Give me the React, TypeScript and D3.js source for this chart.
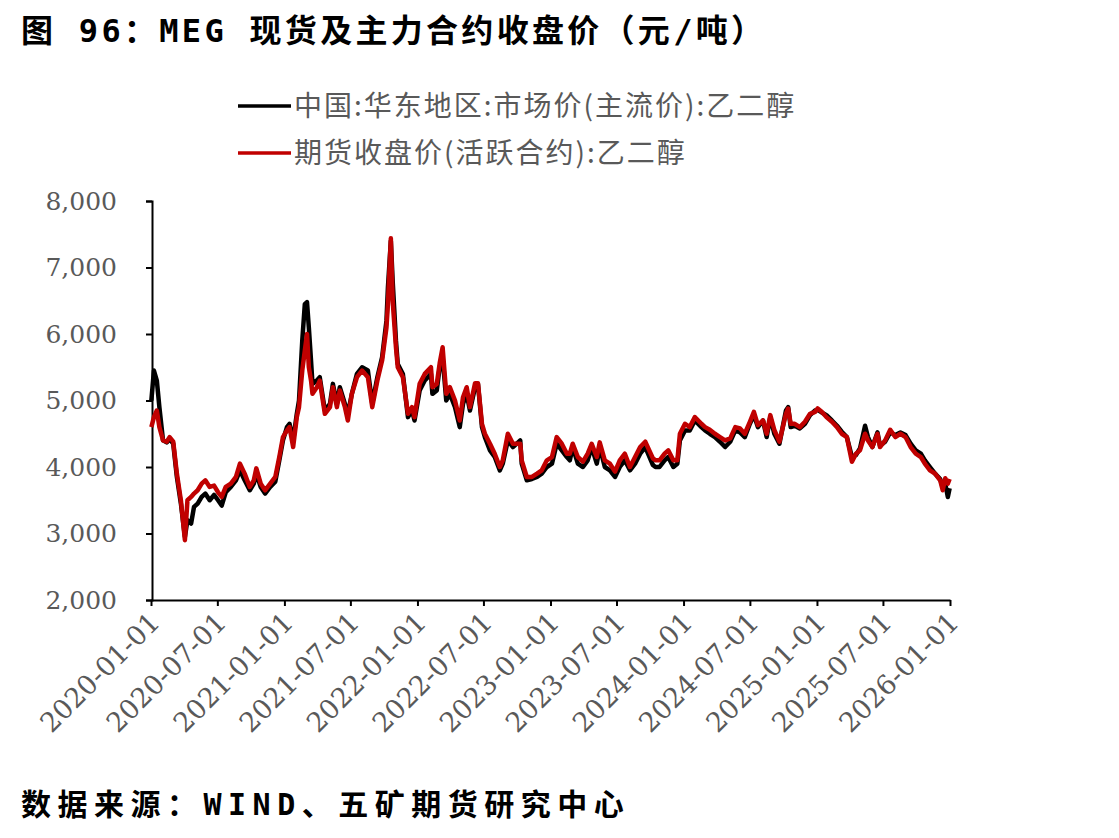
import React, { useEffect, useRef } from 'react';
import * as d3 from 'd3';

// sample dates (roughly every 1-2 weeks)
const dates = [
  '2020-01-02', '2020-01-09', '2020-01-17', '2020-01-24', '2020-02-03', '2020-02-13', '2020-02-21', '2020-03-02',
  '2020-03-12', '2020-03-23', '2020-04-03', '2020-04-10', '2020-04-20', '2020-04-28', '2020-05-08', '2020-05-19',
  '2020-05-29', '2020-06-10', '2020-06-22', '2020-07-03', '2020-07-13', '2020-07-24', '2020-08-07', '2020-08-21',
  '2020-09-01', '2020-09-14', '2020-09-28', '2020-10-09', '2020-10-16', '2020-10-28', '2020-11-09', '2020-11-23',
  '2020-12-07', '2020-12-18', '2020-12-28', '2021-01-08', '2021-01-15', '2021-01-25', '2021-02-04', '2021-02-10',
  '2021-02-19', '2021-02-26', '2021-03-04', '2021-03-09', '2021-03-15', '2021-03-19', '2021-03-31', '2021-04-08',
  '2021-04-22', '2021-05-06', '2021-05-14', '2021-05-25', '2021-06-02', '2021-06-16', '2021-06-24', '2021-07-05',
  '2021-07-19', '2021-08-02', '2021-08-18', '2021-08-30', '2021-09-13', '2021-09-26', '2021-10-08', '2021-10-12',
  '2021-10-20', '2021-10-25', '2021-11-03', '2021-11-08', '2021-11-22', '2021-12-06', '2021-12-17', '2021-12-24',
  '2022-01-07', '2022-01-21', '2022-02-07', '2022-02-11', '2022-02-23', '2022-03-03', '2022-03-11', '2022-03-21',
  '2022-03-31', '2022-04-14', '2022-04-27', '2022-05-06', '2022-05-16', '2022-05-25', '2022-06-08', '2022-06-16',
  '2022-06-27', '2022-07-05', '2022-07-19', '2022-08-01', '2022-08-15', '2022-08-23', '2022-09-06', '2022-09-20',
  '2022-10-10', '2022-10-14', '2022-10-28', '2022-11-11', '2022-11-25', '2022-12-08', '2022-12-22', '2023-01-05',
  '2023-01-18', '2023-02-01', '2023-02-15', '2023-02-23', '2023-03-03', '2023-03-17', '2023-03-31', '2023-04-13',
  '2023-04-24', '2023-05-08', '2023-05-16', '2023-05-30', '2023-06-13', '2023-06-27', '2023-07-10', '2023-07-24',
  '2023-08-07', '2023-08-21', '2023-09-04', '2023-09-18', '2023-10-09', '2023-10-16', '2023-10-27', '2023-11-10',
  '2023-11-20', '2023-12-04', '2023-12-15', '2023-12-22', '2024-01-05', '2024-01-18', '2024-02-01', '2024-02-19',
  '2024-02-29', '2024-03-13', '2024-03-27', '2024-04-10', '2024-04-24', '2024-05-08', '2024-05-22', '2024-06-04',
  '2024-06-17', '2024-07-01', '2024-07-12', '2024-07-23', '2024-08-06', '2024-08-16', '2024-08-26', '2024-09-06',
  '2024-09-20', '2024-10-08', '2024-10-14', '2024-10-21', '2024-11-01', '2024-11-15', '2024-11-29', '2024-12-13',
  '2024-12-27', '2025-01-03', '2025-01-14', '2025-01-27', '2025-02-11', '2025-02-25', '2025-03-10', '2025-03-24',
  '2025-04-07', '2025-04-18', '2025-04-29', '2025-05-13', '2025-05-21', '2025-06-02', '2025-06-16', '2025-06-23',
  '2025-07-07', '2025-07-21', '2025-08-04', '2025-08-18', '2025-09-01', '2025-09-15', '2025-09-29', '2025-10-13',
  '2025-10-24', '2025-11-07', '2025-11-21', '2025-12-05', '2025-12-12', '2025-12-19', '2025-12-26', '2025-12-31'
];

// 中国:华东地区:市场价(主流价):乙二醇
const spotPrice = [
  5000, 5450, 5300, 4900, 4400, 4370, 4420, 4350, 3850, 3450, 2950, 3200, 3150, 3400, 3450, 3550,
  3600, 3500, 3580, 3500, 3420, 3620, 3700, 3800, 3950, 3800, 3650, 3750, 3900, 3700, 3600, 3700,
  3780, 4100, 4400, 4600, 4650, 4400, 4800, 5000, 5900, 6450, 6480, 6100, 5600, 5250, 5300, 5350,
  4850, 4950, 5250, 4950, 5200, 4950, 4800, 5100, 5400, 5500, 5450, 4950, 5350, 5650, 6200, 6700,
  7400, 6800, 5900, 5550, 5400, 4750, 4850, 4700, 5150, 5300, 5400, 5100, 5150, 5500, 5650, 5000,
  5100, 4900, 4600, 4950, 5100, 4850, 5200, 5250, 4600, 4450, 4250, 4150, 3950, 4050, 4400, 4300,
  4400, 4050, 3800, 3820, 3850, 3900, 4000, 4050, 4350, 4250, 4150, 4100, 4300, 4050, 4000, 4100,
  4300, 4050, 4300, 4000, 3950, 3850, 4000, 4100, 3950, 4050, 4200, 4300, 4030, 4000, 4000, 4100,
  4150, 4000, 4050, 4400, 4550, 4550, 4700, 4600, 4550, 4500, 4450, 4380, 4300, 4380, 4550, 4520,
  4450, 4650, 4780, 4600, 4700, 4450, 4750, 4500, 4350, 4850, 4900, 4600, 4620, 4580, 4650, 4780,
  4850, 4860, 4820, 4780, 4700, 4620, 4530, 4450, 4150, 4180, 4280, 4620, 4450, 4300, 4520, 4320,
  4380, 4520, 4480, 4520, 4480, 4350, 4250, 4200, 4100, 4000, 3900, 3820, 3700, 3750, 3550, 3680
];

// 期货收盘价(活跃合约):乙二醇
const futuresPrice = [
  4600, 4750, 4850, 4600, 4400, 4380, 4450, 4380, 3900, 3500, 2900, 3500, 3550, 3600, 3650, 3750,
  3800, 3700, 3720, 3620, 3550, 3700, 3750, 3850, 4050, 3900, 3700, 3800, 3980, 3750, 3650, 3750,
  3850, 4150, 4450, 4550, 4600, 4300, 4750, 4900, 5450, 5750, 6000, 5500, 5300, 5100, 5200, 5300,
  4800, 4900, 5200, 4900, 5150, 4900, 4700, 5100, 5350, 5450, 5350, 4900, 5300, 5600, 6100, 6450,
  7440, 6500, 5800, 5500, 5350, 4800, 4900, 4750, 5250, 5400, 5500, 5200, 5250, 5560, 5800, 5100,
  5200, 5000, 4700, 5050, 5200, 4900, 5260, 5260, 4650, 4500, 4350, 4200, 4000, 4100, 4500, 4350,
  4350, 4100, 3850, 3850, 3900, 3950, 4100, 4150, 4450, 4350, 4200, 4200, 4350, 4150, 4080, 4200,
  4350, 4150, 4370, 4100, 4050, 3930, 4100, 4200, 4000, 4150, 4300, 4380, 4130, 4100, 4100, 4200,
  4250, 4100, 4100, 4500, 4650, 4600, 4750, 4650, 4600, 4560, 4500, 4450, 4400, 4430, 4600, 4580,
  4500, 4680, 4830, 4630, 4700, 4500, 4780, 4560, 4380, 4800, 4880, 4650, 4650, 4600, 4680, 4800,
  4830, 4880, 4830, 4750, 4680, 4600, 4500, 4450, 4080, 4200, 4250, 4500, 4400, 4300, 4500, 4300,
  4400, 4560, 4450, 4500, 4450, 4300, 4200, 4150, 4050, 3950, 3900, 3800, 3650, 3830, 3750, 3820
];

const seriesNames = ['中国:华东地区:市场价(主流价):乙二醇', '期货收盘价(活跃合约):乙二醇'];
const seriesColors = ['#000000', '#C00000'];
const yTicks = [2000, 3000, 4000, 5000, 6000, 7000, 8000];

const App = () => {
  const ref = useRef<SVGSVGElement>(null);

  useEffect(() => {
    const svg = d3.select(ref.current);
    svg.selectAll('*').remove();

    const parse = d3.timeParse('%Y-%m-%d');
    const x = d3.scaleTime()
      .domain([new Date(2020, 0, 1), new Date(2026, 0, 1)])
      .range([151, 950]);
    const y = d3.scaleLinear()
      .domain([2000, 8000])
      .range([600, 201]);

    const cjk = '"Noto Sans CJK SC", "Noto Sans", sans-serif';
    // half-width latin like the original heiti font
    const heiMono = '"DejaVu Sans Mono", "Noto Sans CJK SC", sans-serif';
    const serif = '"DejaVu Serif", "Liberation Serif", serif';

    // title
    svg.append('text')
      .attr('x', 21)
      .attr('y', 42)
      .style('font-family', heiMono)
      .style('font-size', '32px')
      .style('font-weight', 'bold')
      .style('letter-spacing', '3.3px')
      .attr('fill', '#000')
      .text('图 96：MEG 现货及主力合约收盘价（元/吨）');

    // legend
    seriesNames.forEach((name, i) => {
      const ly = 106 + i * 47;
      svg.append('line')
        .attr('x1', 238).attr('x2', 291)
        .attr('y1', ly).attr('y2', ly)
        .attr('stroke', seriesColors[i])
        .attr('stroke-width', 3.5);
      svg.append('text')
        .attr('x', 294)
        .attr('y', ly)
        .attr('dy', '0.36em')
        .style('font-family', cjk)
        .style('font-size', '28px')
        .style('letter-spacing', '2px')
        .attr('fill', '#595959')
        .text(name);
    });

    // y axis
    const yAxis = svg.append('g')
      .attr('transform', 'translate(152,0)')
      .call(d3.axisLeft(y).tickValues(yTicks).tickSize(6).tickFormat(d3.format(',')));
    yAxis.select('.domain').attr('stroke', '#000').attr('stroke-width', 2);
    yAxis.selectAll('.tick line').attr('stroke', '#000').attr('stroke-width', 2);
    yAxis.selectAll('.tick text')
      .attr('x', -35)
      .style('font-family', serif)
      .style('font-size', '25px')
      .attr('fill', '#595959');

    // x axis
    const xAxis = svg.append('g')
      .attr('transform', 'translate(0,600)')
      .call(d3.axisBottom(x).ticks(d3.timeMonth.every(6)).tickSize(6).tickSizeOuter(0)
        .tickFormat(d3.timeFormat('%Y-%m-%d') as any));
    xAxis.select('.domain').attr('stroke', '#000').attr('stroke-width', 2);
    xAxis.selectAll('.tick line').attr('stroke', '#000').attr('stroke-width', 2);
    xAxis.selectAll('.tick text')
      .attr('y', 0)
      .attr('dy', 0)
      .attr('transform', 'translate(10,24) rotate(-45)')
      .attr('text-anchor', 'end')
      .style('font-family', serif)
      .style('font-size', '27px')
      .attr('fill', '#595959');

    // lines
    const line = d3.line<number>()
      .x((d, i) => x(parse(dates[i]) as Date))
      .y((d) => y(d));

    [spotPrice, futuresPrice].forEach((vals, i) => {
      svg.append('path')
        .datum(vals)
        .attr('fill', 'none')
        .attr('stroke', seriesColors[i])
        .attr('stroke-width', 4.5)
        .attr('stroke-linejoin', 'round')
        .attr('d', line);
    });

    // source
    svg.append('text')
      .attr('x', 21)
      .attr('y', 815)
      .style('font-family', heiMono)
      .style('font-size', '30px')
      .style('font-weight', 'bold')
      .style('letter-spacing', '6.5px')
      .attr('fill', '#000')
      .text('数据来源：WIND、五矿期货研究中心');
  }, []);

  return (
    <svg ref={ref} width={1119} height={838}
      style={{ position: 'absolute', left: 0, top: 0, background: '#fff' }} />
  );
};

export default App;
